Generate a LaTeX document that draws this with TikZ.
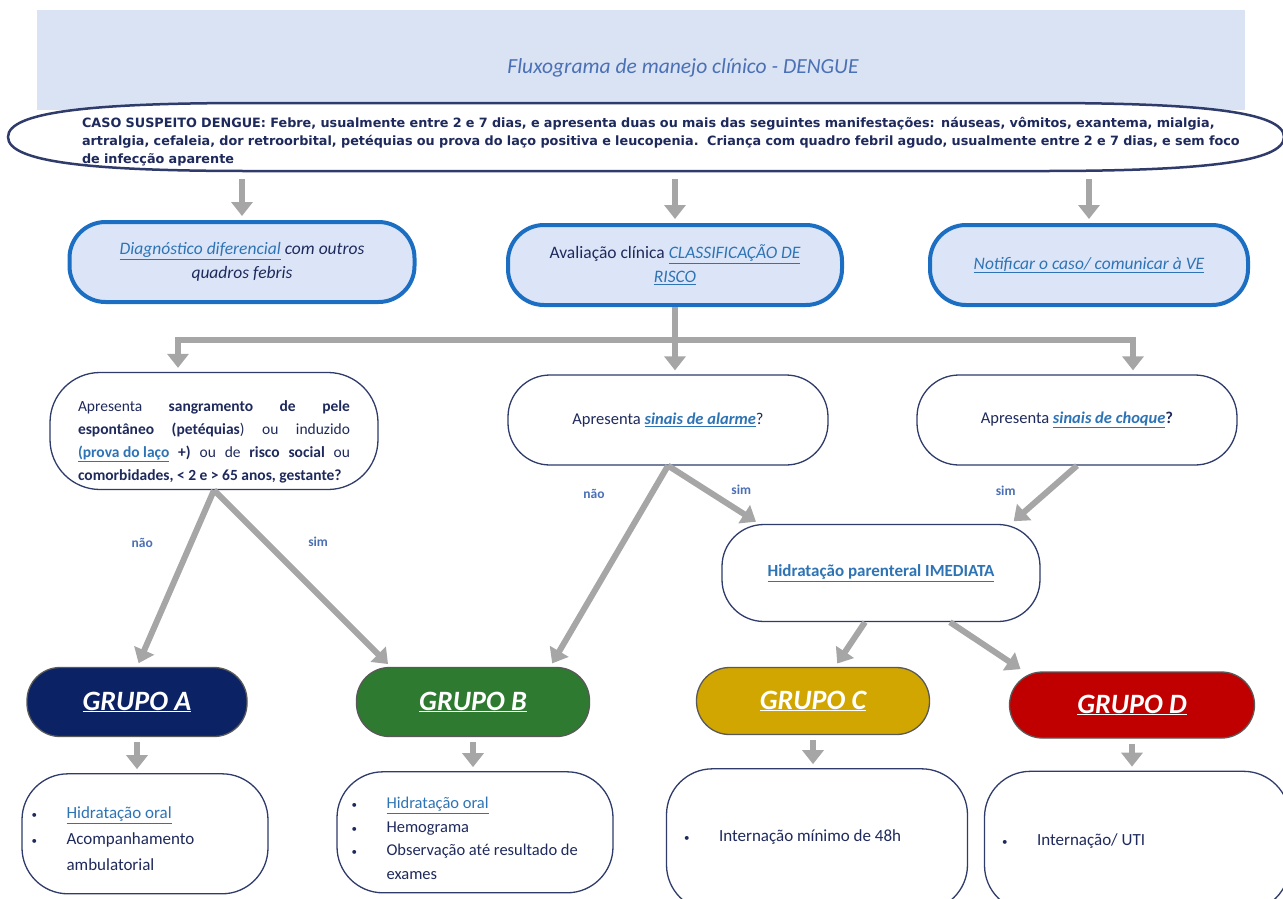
\documentclass[tikz,border=0pt]{standalone}
\usepackage{fontspec}
\setmainfont{Carlito}
\newfontfamily\casofont{DejaVu Sans}
\usetikzlibrary{arrows.meta,positioning}

\definecolor{faixa}{HTML}{DAE3F3}
\definecolor{titulo}{HTML}{4A70B5}
\definecolor{marinho}{HTML}{1F2A5C}
\definecolor{azullink}{HTML}{2E74B5}
\definecolor{borda}{HTML}{2F3B6B}
\definecolor{azulborda}{HTML}{1B6EC2}
\definecolor{azulfundo}{HTML}{DCE5F7}
\definecolor{azulrotulo}{HTML}{4A6FB4}
\definecolor{cinza}{HTML}{A6A6A6}
\definecolor{grupoa}{HTML}{0B2265}
\definecolor{grupob}{HTML}{2E7A30}
\definecolor{grupoc}{HTML}{D2A600}
\definecolor{grupod}{HTML}{C00000}

\newcommand{\lnk}[1]{\textcolor{azullink}{\underline{#1}}}
\newcommand{\itm}[1]{\makebox[35pt][l]{\fontsize{11}{11}\selectfont•}#1}

\tikzstyle{contorno} = [draw=borda, line width=2.5pt, fill=white]
\tikzstyle{etapa} = [rectangle, draw=azulborda, line width=4pt, fill=azulfundo,
rounded corners=36pt, text=marinho, align=center, font=\fontsize{17.5}{24}\selectfont\itshape]
\tikzstyle{pergunta} = [rectangle, draw=borda, line width=1.3pt, fill=white,
rounded corners=42pt, text=marinho, align=center, font=\fontsize{16.5}{22}\selectfont]
\tikzstyle{grupo} = [rectangle, draw=black!65, line width=1.3pt, rounded corners=33pt,
text=white, font=\fontsize{28}{30}\selectfont\bfseries\itshape]
\tikzstyle{conduta} = [rectangle, draw=borda, line width=1.3pt, fill=white, rounded corners=46pt]
\tikzstyle{lista} = [align=left, text=marinho, inner sep=0pt, font=\fontsize{17}{26}\selectfont]
\tikzstyle{resposta} = [text=azulrotulo, inner sep=1pt, font=\fontsize{13.5}{15}\selectfont\bfseries]
\tikzstyle{seta} = [draw=cinza, line width=6pt, -{Triangle[width=21pt,length=14pt]}, shorten >=4pt]

\begin{document}
\begin{tikzpicture}[x=1pt, y=-1pt]
		\useasboundingbox (0,0) rectangle (1283,898);
		\clip (0,0) rectangle (1283,898);
		\fill [faixa] (37,10) rectangle (1245,110);
		\node [text=titulo, font=\fontsize{21.5}{24}\selectfont\itshape] (Titulo) at (683,68) {Fluxograma de manejo clínico - DENGUE};
		
		% caso suspeito
		\draw [contorno] (8,137) .. controls (8,112) and (90,103) .. (250,103) -- (1042,103)
		.. controls (1202,103) and (1284,112) .. (1284,137) .. controls (1284,162) and (1202,171) .. (1042,171)
		-- (250,171) .. controls (90,171) and (8,162) .. (8,137) -- cycle;
		\node [text width=1200pt, align=left, text=marinho, font=\casofont\bfseries\fontsize{12.8}{18}\selectfont] (Caso) at (682,142)
		{CASO SUSPEITO DENGUE: Febre, usualmente entre 2 e 7 dias, e apresenta duas ou mais das seguintes manifestações: náuseas, vômitos, exantema, mialgia,\\
		artralgia, cefaleia, dor retroorbital, petéquias ou prova do laço positiva e leucopenia.\ \ Criança com quadro febril agudo, usualmente entre 2 e 7 dias, e sem foco\\
		de infecção aparente};
		\coordinate (CasoBase) at (646,179);
		
		\node [etapa, minimum width=345pt, minimum height=80pt] (Diag) at (242,262) {\lnk{Diagnóstico diferencial} com outros\\quadros febris};
		\node [etapa, minimum width=334pt, minimum height=80pt] (Aval) at (675,265) {\upshape Avaliação clínica \textit{\lnk{CLASSIFICAÇÃO DE}}\\\textit{\lnk{RISCO}}};
		\node [etapa, minimum width=318pt, minimum height=80pt] (Notif) at (1089,265) {\lnk{Notificar o caso/ comunicar à VE}};
		
		\node [pergunta, minimum width=328pt, minimum height=117pt, rounded corners=50pt, text width=272pt, align=justify, font=\fontsize{15.5}{23}\selectfont] (Sangra) at (214,431)
		{\rule{0pt}{32pt}Apresenta \textbf{sangramento de pele}\linebreak \textbf{espontâneo (petéquias}) ou induzido\linebreak \textbf{\lnk{(prova do laço} +)} ou de \textbf{risco social} ou\linebreak \textbf{comorbidades, < 2 e > 65 anos, gestante?}};
		\node [pergunta, minimum width=320pt, minimum height=90pt] (Alarme) at (668,420) {Apresenta \textbf{\textit{\lnk{sinais de alarme}}}?};
		\node [pergunta, minimum width=320pt, minimum height=90pt] (Choque) at (1077,420) {Apresenta \textbf{\textit{\lnk{sinais de choque}}?}};
		\node [pergunta, minimum width=318pt, minimum height=97pt, font=\fontsize{17}{22}\selectfont\bfseries] (Hidrat) at (881,573) {\lnk{Hidratação parenteral IMEDIATA}};
		
		\node [grupo, fill=grupoa, minimum width=220pt, minimum height=69pt] (GrupoA) at (137,702) {\underline{GRUPO A}};
		\node [grupo, fill=grupob, minimum width=233pt, minimum height=69pt] (GrupoB) at (473,702) {\underline{GRUPO B}};
		\node [grupo, fill=grupoc, minimum width=233pt, minimum height=67pt] (GrupoC) at (813,701) {\underline{GRUPO C}};
		\node [grupo, fill=grupod, minimum width=245pt, minimum height=66pt] (GrupoD) at (1132,705) {\underline{GRUPO D}};
		
		\node [conduta, minimum width=246pt, minimum height=120pt, below=36pt of GrupoA, xshift=8pt] (ResA) {};
		\node [conduta, minimum width=276pt, minimum height=121pt, below=34pt of GrupoB, xshift=2pt] (ResB) {};
		\node [conduta, minimum width=301pt, minimum height=142pt, below=33pt of GrupoC, xshift=4pt] (ResC) {};
		\node [conduta, minimum width=305pt, minimum height=140pt, below=32pt of GrupoD, xshift=5pt] (ResD) {};
		\node [lista, right=10pt of ResA.west, yshift=-5pt] (ListaA) {\itm{\lnk{Hidratação oral}}\\\itm{Acompanhamento}\\\hspace*{35pt}ambulatorial};
		\node [lista, right=15pt of ResB.west, yshift=-6pt, font=\fontsize{16.5}{23.5}\selectfont] (ListaB) {\itm{\lnk{Hidratação oral}}\\\itm{Hemograma}\\\itm{Observação até resultado de}\\\hspace*{35pt}exames};
		\node [lista, right=18pt of ResC.west, yshift=3pt] (ListaC) {\itm{Internação mínimo de 48h}};
		\node [lista, right=18pt of ResD.west] (ListaD) {\itm{Internação/ UTI}};
		
		\path [seta] (CasoBase -| Diag.north) -- (Diag.north);
		\path [seta] (CasoBase -| Aval.north) -- (Aval.north);
		\path [seta] (CasoBase -| Notif.north) -- (Notif.north);
		
		\coordinate (BarraE) at (178,340);
		\coordinate (BarraD) at (1133,340);
		\draw [cinza, line width=6pt, line cap=rect] (BarraE) -- (BarraD);
		\path [seta] (Aval.south) -- (Aval.south |- Alarme.north);
		\path [seta] (BarraE) -- (BarraE |- Sangra.north);
		\path [seta] (BarraD) -- (BarraD |- Choque.north);
		
		\path [seta] (Sangra.south) -- node [resposta, pos=0.3, left=34pt] (NaoA) {não} (GrupoA.north);
		\path [seta] (Sangra.south) -- node [resposta, pos=0.29, right=39pt] (SimB) {sim} ([xshift=35pt]GrupoB.north west);
		\path [seta] (Alarme.south) -- node [resposta, pos=0.14, left=43pt] (NaoAlarme) {não} ([xshift=-40pt]GrupoB.north east);
		\path [seta] (Alarme.south) -- node [resposta, pos=0.42, right=21pt] (SimAlarme) {sim} ([xshift=38pt]Hidrat.north west);
		\path [seta] (Choque.south) -- node [resposta, pos=0.43, left=29pt] (SimChoque) {sim} ([xshift=-30pt]Hidrat.north east);
		\path [seta] ([xshift=-16pt]Hidrat.south) -- ([xshift=22pt]GrupoC.north);
		\path [seta] ([xshift=69pt]Hidrat.south) -- ([xshift=15pt]GrupoD.north west);
		
		\path [seta, shorten <=5pt] (GrupoA.south) -- (GrupoA.south |- ResA.north);
		\path [seta, shorten <=5pt] (GrupoB.south) -- (GrupoB.south |- ResB.north);
		\path [seta, shorten <=5pt] (GrupoC.south) -- (GrupoC.south |- ResC.north);
		\path [seta, shorten <=5pt] (GrupoD.south) -- (GrupoD.south |- ResD.north);
	\end{tikzpicture}
\end{document}
